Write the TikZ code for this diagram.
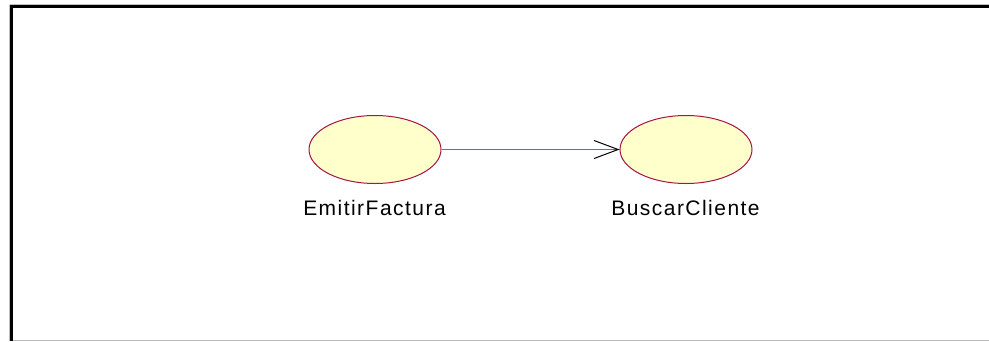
\documentclass[tikz,border=0pt]{standalone}
\usepackage{fontspec}
\setmainfont{Liberation Sans}
\newfontfamily\labelfont[LetterSpace=7]{Liberation Sans}
\usetikzlibrary{arrows.meta,shapes.geometric,calc}
\definecolor{ucfill}{RGB}{255,255,204}
\definecolor{ucline}{RGB}{165,20,70}
\definecolor{depcolor}{RGB}{200,70,120}
\definecolor{frameshade}{RGB}{190,190,190}
\tikzset{
  usecase/.style={ellipse, draw=ucline, fill=ucfill, line width=1pt, minimum width=132pt, minimum height=68pt, inner sep=0pt},
  uclabel/.style={anchor=base, font=\labelfont\fontsize{21}{24}\selectfont, inner sep=0pt},
  depline/.style={draw=depcolor, line width=1.1pt},
  deptip/.style={draw=black, line width=1pt, -{Straight Barb[length=24pt, width=18pt]}}
}
\begin{document}
\begin{tikzpicture}[x=1pt, y=-1pt]
\useasboundingbox (0,0) rectangle (989,341);
\fill[white] (0,0) rectangle (989,341);
% frame
\draw[frameshade, line width=1pt] (9.5,4.5) -- (989,4.5);
\draw[frameshade, line width=1pt] (9.5,4.5) -- (9.5,341);
\draw[frameshade, line width=1pt] (13,340.5) -- (989,340.5);
\draw[black, line width=3.5pt] (11.5,6.5) -- (989,6.5);
\draw[black, line width=3.5pt] (11.5,4.75) -- (11.5,341);
% use cases
\node[usecase] (e1) at (375,149.5) {};
\node[usecase] (e2) at (686,149.5) {};
\node[uclabel] (l1) at (374.5,215) {EmitirFactura};
\node[uclabel] (l2) at (685.5,215) {BuscarCliente};
\draw[depline] (e1.east) -- (e2.west);
\draw[deptip] ($(e2.west)+(-2,0)$) -- (e2.west);
\end{tikzpicture}
\end{document}
